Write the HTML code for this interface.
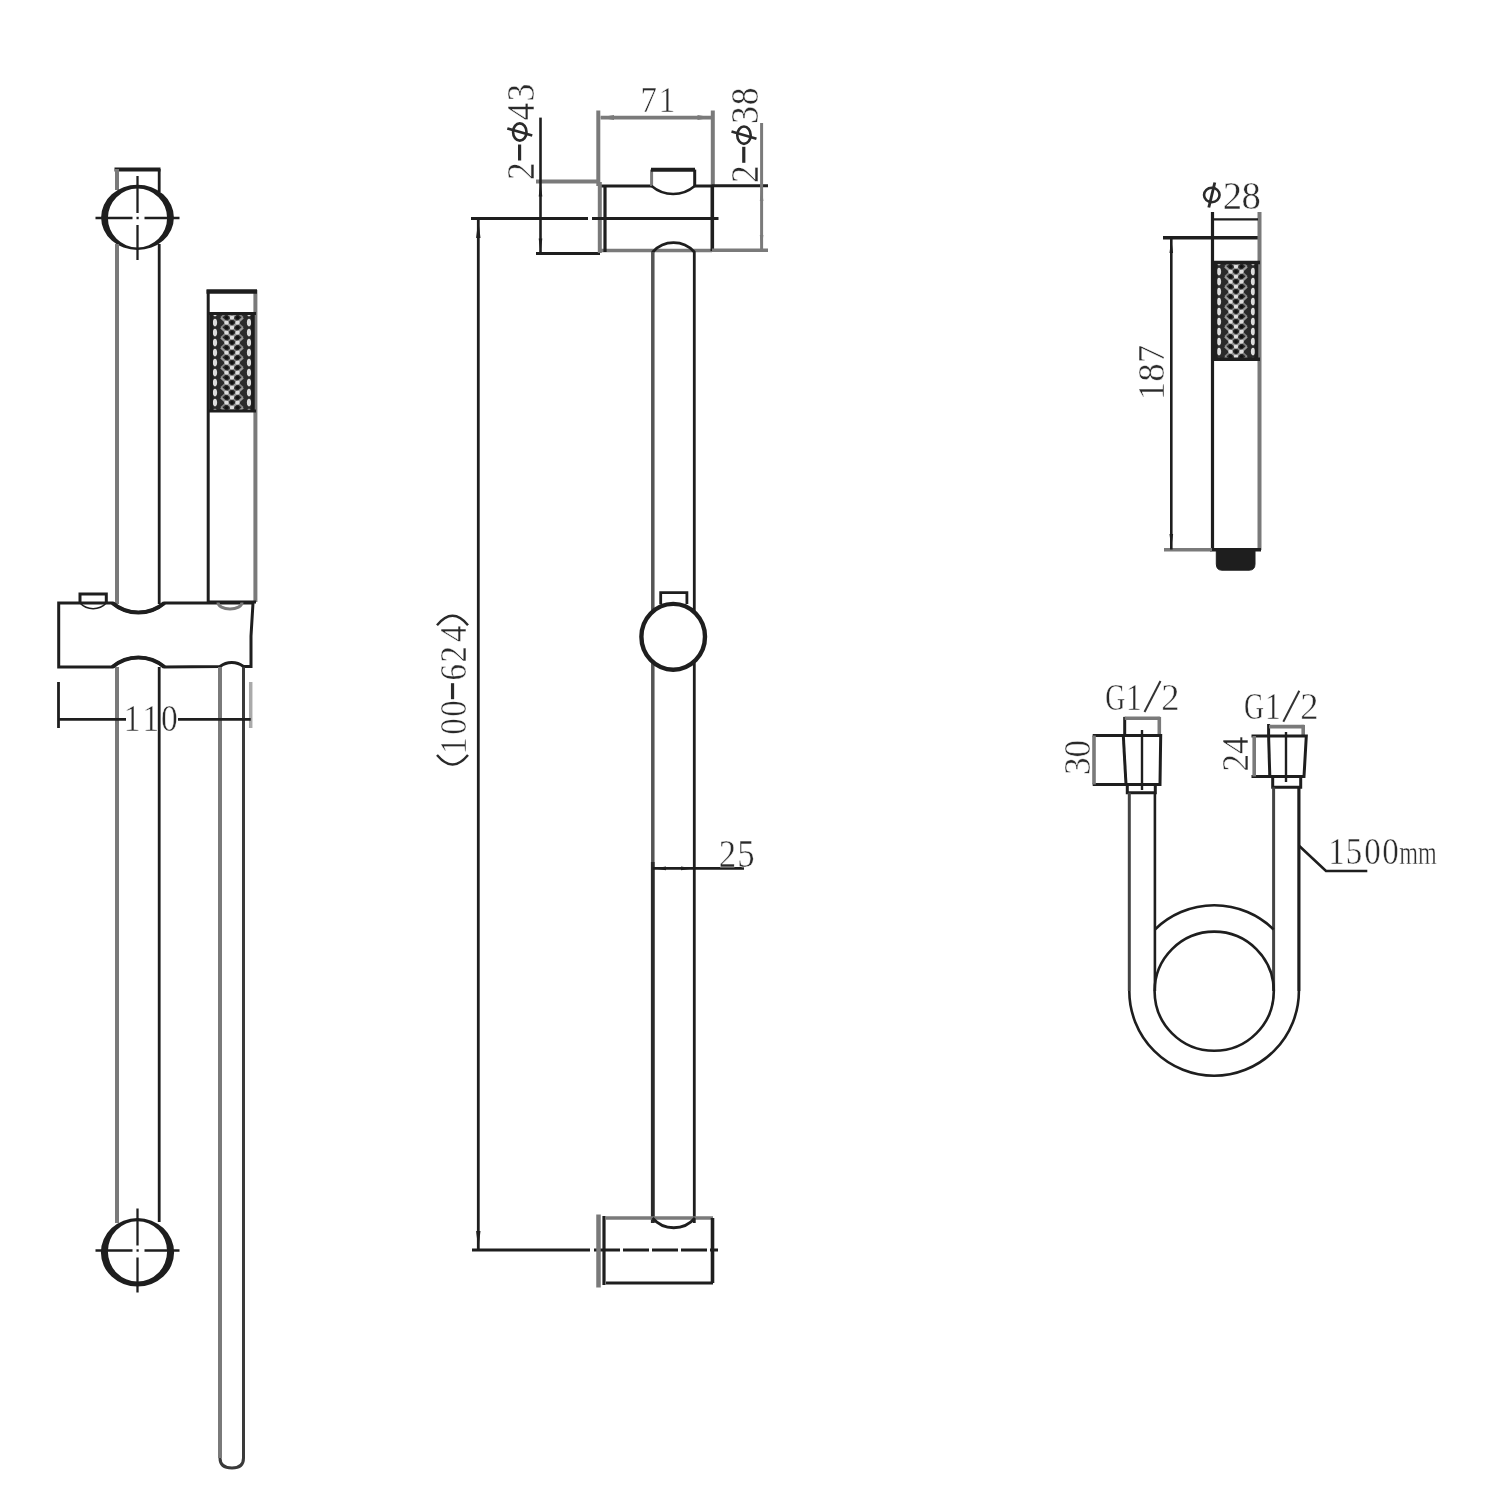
<!DOCTYPE html>
<html><head><meta charset="utf-8"><style>
html,body{margin:0;padding:0;background:#fff;}
svg{display:block;will-change:transform;}
text{font-family:"Liberation Serif", serif;}
</style></head><body>
<svg width="1500" height="1500" viewBox="0 0 1500 1500">
<defs>
<pattern id="mesh" x="0" y="0" width="8" height="8" patternUnits="userSpaceOnUse">
<rect width="8" height="8" fill="#222"/>
<circle cx="2" cy="2" r="1.3" fill="#ddd"/><circle cx="6" cy="6" r="1.3" fill="#ddd"/>
</pattern>
</defs>
<rect width="1500" height="1500" fill="#fff"/>
<line x1="114.5" y1="169.5" x2="160.5" y2="169.5" stroke="#1e1e1e" stroke-width="4.2" />
<line x1="117" y1="169" x2="117" y2="190" stroke="#7a7a7a" stroke-width="4" />
<line x1="159.2" y1="169" x2="159.2" y2="192" stroke="#1e1e1e" stroke-width="2.8" />
<path d="M101.1,217.4 A36.4,32.6 0 1 0 173.9,217.4 A36.4,32.6 0 1 0 101.1,217.4 Z M107.9,218 A29.6,29.4 0 1 0 167.1,218 A29.6,29.4 0 1 0 107.9,218 Z" fill="#1e1e1e" fill-rule="evenodd"/>
<line x1="95.5" y1="218" x2="132.5" y2="218" stroke="#1e1e1e" stroke-width="2.3" />
<line x1="144.5" y1="218" x2="179.5" y2="218" stroke="#1e1e1e" stroke-width="2.3" />
<rect x="136.5" y="216.8" width="2.2" height="2.4" fill="#1e1e1e"/>
<line x1="137.5" y1="176" x2="137.5" y2="213" stroke="#1e1e1e" stroke-width="2.3" />
<line x1="137.5" y1="225" x2="137.5" y2="260" stroke="#1e1e1e" stroke-width="2.3" />
<line x1="117" y1="244" x2="117" y2="604" stroke="#7a7a7a" stroke-width="4" />
<line x1="159.2" y1="244" x2="159.2" y2="604" stroke="#1e1e1e" stroke-width="2.8" />
<path d="M58.7,603 L112.4,603 A40.3,40.3 0 0 0 164.4,603 L253,603 L251,636 L251,666.5 L243.5,666.5 A19.3,19.3 0 0 0 220,666.5 L164.4,667 A40.3,40.3 0 0 0 112.4,667 L58.7,667 Z" stroke="#1e1e1e" stroke-width="3.0" fill="none" />
<path d="M112.4,603 A40.3,40.3 0 0 0 164.4,603" stroke="#1e1e1e" stroke-width="4.2" fill="none" />
<path d="M112.4,667 A40.3,40.3 0 0 1 164.4,667" stroke="#1e1e1e" stroke-width="4.2" fill="none" />
<path d="M80,603 L80,594 L106.3,594 L106.3,603" stroke="#1e1e1e" stroke-width="3.0" fill="none" />
<path d="M80,603 A18,18 0 0 0 106.3,603" stroke="#1e1e1e" stroke-width="1.6" fill="none" />
<line x1="117" y1="667" x2="117" y2="1223" stroke="#7a7a7a" stroke-width="4" />
<line x1="159.2" y1="667" x2="159.2" y2="1222" stroke="#1e1e1e" stroke-width="2.8" />
<path d="M100.9,1252.3 A36.6,34.2 0 1 0 174.1,1252.3 A36.6,34.2 0 1 0 100.9,1252.3 Z M107.9,1251.4 A29.6,30.2 0 1 0 167.1,1251.4 A29.6,30.2 0 1 0 107.9,1251.4 Z" fill="#1e1e1e" fill-rule="evenodd"/>
<line x1="95.5" y1="1250.5" x2="132.5" y2="1250.5" stroke="#1e1e1e" stroke-width="2.3" />
<line x1="144.5" y1="1250.5" x2="179.5" y2="1250.5" stroke="#1e1e1e" stroke-width="2.3" />
<rect x="136.5" y="1249.3" width="2.2" height="2.4" fill="#1e1e1e"/>
<line x1="137.5" y1="1208.5" x2="137.5" y2="1245.5" stroke="#1e1e1e" stroke-width="2.3" />
<line x1="137.5" y1="1257.5" x2="137.5" y2="1292.5" stroke="#1e1e1e" stroke-width="2.3" />
<line x1="208.2" y1="290" x2="208.2" y2="602" stroke="#1e1e1e" stroke-width="3.0" />
<line x1="255.4" y1="290" x2="255.4" y2="602" stroke="#7a7a7a" stroke-width="4" />
<line x1="206.5" y1="291.5" x2="257" y2="291.5" stroke="#1e1e1e" stroke-width="4.5" />
<line x1="208" y1="602" x2="256" y2="602" stroke="#1e1e1e" stroke-width="3.0" />
<path d="M218,602.5 A12,6.5 0 0 0 242,602.5" stroke="#7a7a7a" stroke-width="3" fill="none" />
<rect x="210" y="313" width="44" height="98" fill="#2a2a2a"/><clipPath id="mc232"><rect x="211" y="314" width="42" height="96"/></clipPath><g clip-path="url(#mc232)"><polyline points="221,307.6 226.5,312.6 232,317.6 237.5,312.6 243,307.6" stroke="#9a9a9a" stroke-width="2.2" fill="none"/><polyline points="221,317.6 226.5,312.6 232,307.6 237.5,312.6 243,317.6" stroke="#808080" stroke-width="1.8" fill="none"/><polyline points="221,317.6 226.5,322.6 232,327.6 237.5,322.6 243,317.6" stroke="#9a9a9a" stroke-width="2.2" fill="none"/><polyline points="221,327.6 226.5,322.6 232,317.6 237.5,322.6 243,327.6" stroke="#808080" stroke-width="1.8" fill="none"/><polyline points="221,327.6 226.5,332.6 232,337.6 237.5,332.6 243,327.6" stroke="#9a9a9a" stroke-width="2.2" fill="none"/><polyline points="221,337.6 226.5,332.6 232,327.6 237.5,332.6 243,337.6" stroke="#808080" stroke-width="1.8" fill="none"/><polyline points="221,337.6 226.5,342.6 232,347.6 237.5,342.6 243,337.6" stroke="#9a9a9a" stroke-width="2.2" fill="none"/><polyline points="221,347.6 226.5,342.6 232,337.6 237.5,342.6 243,347.6" stroke="#808080" stroke-width="1.8" fill="none"/><polyline points="221,347.6 226.5,352.6 232,357.6 237.5,352.6 243,347.6" stroke="#9a9a9a" stroke-width="2.2" fill="none"/><polyline points="221,357.6 226.5,352.6 232,347.6 237.5,352.6 243,357.6" stroke="#808080" stroke-width="1.8" fill="none"/><polyline points="221,357.6 226.5,362.6 232,367.6 237.5,362.6 243,357.6" stroke="#9a9a9a" stroke-width="2.2" fill="none"/><polyline points="221,367.6 226.5,362.6 232,357.6 237.5,362.6 243,367.6" stroke="#808080" stroke-width="1.8" fill="none"/><polyline points="221,367.6 226.5,372.6 232,377.6 237.5,372.6 243,367.6" stroke="#9a9a9a" stroke-width="2.2" fill="none"/><polyline points="221,377.6 226.5,372.6 232,367.6 237.5,372.6 243,377.6" stroke="#808080" stroke-width="1.8" fill="none"/><polyline points="221,377.6 226.5,382.6 232,387.6 237.5,382.6 243,377.6" stroke="#9a9a9a" stroke-width="2.2" fill="none"/><polyline points="221,387.6 226.5,382.6 232,377.6 237.5,382.6 243,387.6" stroke="#808080" stroke-width="1.8" fill="none"/><polyline points="221,387.6 226.5,392.6 232,397.6 237.5,392.6 243,387.6" stroke="#9a9a9a" stroke-width="2.2" fill="none"/><polyline points="221,397.6 226.5,392.6 232,387.6 237.5,392.6 243,397.6" stroke="#808080" stroke-width="1.8" fill="none"/><polyline points="221,397.6 226.5,402.6 232,407.6 237.5,402.6 243,397.6" stroke="#9a9a9a" stroke-width="2.2" fill="none"/><polyline points="221,407.6 226.5,402.6 232,397.6 237.5,402.6 243,407.6" stroke="#808080" stroke-width="1.8" fill="none"/><polyline points="221,407.6 226.5,412.6 232,417.6 237.5,412.6 243,407.6" stroke="#9a9a9a" stroke-width="2.2" fill="none"/><polyline points="221,417.6 226.5,412.6 232,407.6 237.5,412.6 243,417.6" stroke="#808080" stroke-width="1.8" fill="none"/><polyline points="221,417.6 226.5,422.6 232,427.6 237.5,422.6 243,417.6" stroke="#9a9a9a" stroke-width="2.2" fill="none"/><polyline points="221,427.6 226.5,422.6 232,417.6 237.5,422.6 243,427.6" stroke="#808080" stroke-width="1.8" fill="none"/><ellipse cx="215" cy="312.6" rx="2.1" ry="3.8" fill="#dcdcdc"/><ellipse cx="249" cy="312.6" rx="2.1" ry="3.8" fill="#dcdcdc"/><circle cx="226.5" cy="312.6" r="2.2" fill="#dedede"/><circle cx="226.5" cy="317.6" r="1.6" fill="#111"/><circle cx="237.5" cy="312.6" r="2.2" fill="#dedede"/><circle cx="237.5" cy="317.6" r="1.6" fill="#111"/><circle cx="232" cy="317.6" r="2.2" fill="#dedede"/><circle cx="232" cy="312.6" r="1.6" fill="#111"/><ellipse cx="215" cy="322.6" rx="2.1" ry="3.8" fill="#dcdcdc"/><ellipse cx="249" cy="322.6" rx="2.1" ry="3.8" fill="#dcdcdc"/><circle cx="226.5" cy="322.6" r="2.2" fill="#dedede"/><circle cx="226.5" cy="327.6" r="1.6" fill="#111"/><circle cx="237.5" cy="322.6" r="2.2" fill="#dedede"/><circle cx="237.5" cy="327.6" r="1.6" fill="#111"/><circle cx="232" cy="327.6" r="2.2" fill="#dedede"/><circle cx="232" cy="322.6" r="1.6" fill="#111"/><ellipse cx="215" cy="332.6" rx="2.1" ry="3.8" fill="#dcdcdc"/><ellipse cx="249" cy="332.6" rx="2.1" ry="3.8" fill="#dcdcdc"/><circle cx="226.5" cy="332.6" r="2.2" fill="#dedede"/><circle cx="226.5" cy="337.6" r="1.6" fill="#111"/><circle cx="237.5" cy="332.6" r="2.2" fill="#dedede"/><circle cx="237.5" cy="337.6" r="1.6" fill="#111"/><circle cx="232" cy="337.6" r="2.2" fill="#dedede"/><circle cx="232" cy="332.6" r="1.6" fill="#111"/><ellipse cx="215" cy="342.6" rx="2.1" ry="3.8" fill="#dcdcdc"/><ellipse cx="249" cy="342.6" rx="2.1" ry="3.8" fill="#dcdcdc"/><circle cx="226.5" cy="342.6" r="2.2" fill="#dedede"/><circle cx="226.5" cy="347.6" r="1.6" fill="#111"/><circle cx="237.5" cy="342.6" r="2.2" fill="#dedede"/><circle cx="237.5" cy="347.6" r="1.6" fill="#111"/><circle cx="232" cy="347.6" r="2.2" fill="#dedede"/><circle cx="232" cy="342.6" r="1.6" fill="#111"/><ellipse cx="215" cy="352.6" rx="2.1" ry="3.8" fill="#dcdcdc"/><ellipse cx="249" cy="352.6" rx="2.1" ry="3.8" fill="#dcdcdc"/><circle cx="226.5" cy="352.6" r="2.2" fill="#dedede"/><circle cx="226.5" cy="357.6" r="1.6" fill="#111"/><circle cx="237.5" cy="352.6" r="2.2" fill="#dedede"/><circle cx="237.5" cy="357.6" r="1.6" fill="#111"/><circle cx="232" cy="357.6" r="2.2" fill="#dedede"/><circle cx="232" cy="352.6" r="1.6" fill="#111"/><ellipse cx="215" cy="362.6" rx="2.1" ry="3.8" fill="#dcdcdc"/><ellipse cx="249" cy="362.6" rx="2.1" ry="3.8" fill="#dcdcdc"/><circle cx="226.5" cy="362.6" r="2.2" fill="#dedede"/><circle cx="226.5" cy="367.6" r="1.6" fill="#111"/><circle cx="237.5" cy="362.6" r="2.2" fill="#dedede"/><circle cx="237.5" cy="367.6" r="1.6" fill="#111"/><circle cx="232" cy="367.6" r="2.2" fill="#dedede"/><circle cx="232" cy="362.6" r="1.6" fill="#111"/><ellipse cx="215" cy="372.6" rx="2.1" ry="3.8" fill="#dcdcdc"/><ellipse cx="249" cy="372.6" rx="2.1" ry="3.8" fill="#dcdcdc"/><circle cx="226.5" cy="372.6" r="2.2" fill="#dedede"/><circle cx="226.5" cy="377.6" r="1.6" fill="#111"/><circle cx="237.5" cy="372.6" r="2.2" fill="#dedede"/><circle cx="237.5" cy="377.6" r="1.6" fill="#111"/><circle cx="232" cy="377.6" r="2.2" fill="#dedede"/><circle cx="232" cy="372.6" r="1.6" fill="#111"/><ellipse cx="215" cy="382.6" rx="2.1" ry="3.8" fill="#dcdcdc"/><ellipse cx="249" cy="382.6" rx="2.1" ry="3.8" fill="#dcdcdc"/><circle cx="226.5" cy="382.6" r="2.2" fill="#dedede"/><circle cx="226.5" cy="387.6" r="1.6" fill="#111"/><circle cx="237.5" cy="382.6" r="2.2" fill="#dedede"/><circle cx="237.5" cy="387.6" r="1.6" fill="#111"/><circle cx="232" cy="387.6" r="2.2" fill="#dedede"/><circle cx="232" cy="382.6" r="1.6" fill="#111"/><ellipse cx="215" cy="392.6" rx="2.1" ry="3.8" fill="#dcdcdc"/><ellipse cx="249" cy="392.6" rx="2.1" ry="3.8" fill="#dcdcdc"/><circle cx="226.5" cy="392.6" r="2.2" fill="#dedede"/><circle cx="226.5" cy="397.6" r="1.6" fill="#111"/><circle cx="237.5" cy="392.6" r="2.2" fill="#dedede"/><circle cx="237.5" cy="397.6" r="1.6" fill="#111"/><circle cx="232" cy="397.6" r="2.2" fill="#dedede"/><circle cx="232" cy="392.6" r="1.6" fill="#111"/><ellipse cx="215" cy="402.6" rx="2.1" ry="3.8" fill="#dcdcdc"/><ellipse cx="249" cy="402.6" rx="2.1" ry="3.8" fill="#dcdcdc"/><circle cx="226.5" cy="402.6" r="2.2" fill="#dedede"/><circle cx="226.5" cy="407.6" r="1.6" fill="#111"/><circle cx="237.5" cy="402.6" r="2.2" fill="#dedede"/><circle cx="237.5" cy="407.6" r="1.6" fill="#111"/><circle cx="232" cy="407.6" r="2.2" fill="#dedede"/><circle cx="232" cy="402.6" r="1.6" fill="#111"/><ellipse cx="215" cy="412.6" rx="2.1" ry="3.8" fill="#dcdcdc"/><ellipse cx="249" cy="412.6" rx="2.1" ry="3.8" fill="#dcdcdc"/><circle cx="226.5" cy="412.6" r="2.2" fill="#dedede"/><circle cx="226.5" cy="417.6" r="1.6" fill="#111"/><circle cx="237.5" cy="412.6" r="2.2" fill="#dedede"/><circle cx="237.5" cy="417.6" r="1.6" fill="#111"/><circle cx="232" cy="417.6" r="2.2" fill="#dedede"/><circle cx="232" cy="412.6" r="1.6" fill="#111"/><ellipse cx="215" cy="422.6" rx="2.1" ry="3.8" fill="#dcdcdc"/><ellipse cx="249" cy="422.6" rx="2.1" ry="3.8" fill="#dcdcdc"/><circle cx="226.5" cy="422.6" r="2.2" fill="#dedede"/><circle cx="226.5" cy="427.6" r="1.6" fill="#111"/><circle cx="237.5" cy="422.6" r="2.2" fill="#dedede"/><circle cx="237.5" cy="427.6" r="1.6" fill="#111"/><circle cx="232" cy="427.6" r="2.2" fill="#dedede"/><circle cx="232" cy="422.6" r="1.6" fill="#111"/></g>
<line x1="208" y1="313.5" x2="256" y2="313.5" stroke="#1e1e1e" stroke-width="3.2" />
<line x1="208" y1="411" x2="256" y2="411" stroke="#1e1e1e" stroke-width="3.2" />
<line x1="211" y1="313" x2="211" y2="411" stroke="#1e1e1e" stroke-width="3.5" />
<line x1="253" y1="313" x2="253" y2="411" stroke="#1e1e1e" stroke-width="3.5" />
<path d="M220,667 L220,1458 Q220,1468 232,1468 Q243.5,1468 243.5,1458 L243.5,667" stroke="#3a3a3a" stroke-width="3.0" fill="none" />
<line x1="220" y1="667" x2="220" y2="1458" stroke="#7a7a7a" stroke-width="4" />
<line x1="58.5" y1="682" x2="58.5" y2="728" stroke="#1e1e1e" stroke-width="2.8" />
<line x1="250.7" y1="682" x2="250.7" y2="728" stroke="#aaa" stroke-width="3.5" />
<line x1="58.5" y1="719.4" x2="126" y2="719.4" stroke="#1e1e1e" stroke-width="2.6" />
<line x1="178" y1="719.4" x2="250.7" y2="719.4" stroke="#1e1e1e" stroke-width="2.6" />
<text transform="translate(132.2 731.2) scale(0.88 1)" font-size="38" text-anchor="middle" fill="#2a2a2a" stroke="#fff" stroke-width="0.5">1</text>
<text transform="translate(150.8 731.2) scale(0.88 1)" font-size="38" text-anchor="middle" fill="#2a2a2a" stroke="#fff" stroke-width="0.5">1</text>
<text transform="translate(169.4 731.2) scale(0.88 1)" font-size="38" text-anchor="middle" fill="#2a2a2a" stroke="#fff" stroke-width="0.5">0</text>
<line x1="598.3" y1="110.5" x2="598.3" y2="186" stroke="#7a7a7a" stroke-width="4" />
<line x1="712.8" y1="110.5" x2="712.8" y2="186" stroke="#7a7a7a" stroke-width="4" />
<line x1="600.6" y1="117.6" x2="711.7" y2="117.6" stroke="#7a7a7a" stroke-width="3.6" />
<polygon points="600,117.6 614,115.1 614,120.1" fill="#7a7a7a"/>
<polygon points="711.5,117.6 697.5,115.1 697.5,120.1" fill="#7a7a7a"/>
<text transform="translate(648.8 112) scale(0.9 1)" font-size="36.5" text-anchor="middle" fill="#2a2a2a" stroke="#fff" stroke-width="0.5">7</text>
<text transform="translate(666.9 112) scale(0.9 1)" font-size="36.5" text-anchor="middle" fill="#2a2a2a" stroke="#fff" stroke-width="0.5">1</text>
<line x1="536" y1="181.5" x2="600" y2="181.5" stroke="#7a7a7a" stroke-width="4.2" />
<line x1="536" y1="253.5" x2="600" y2="253.5" stroke="#1e1e1e" stroke-width="3" />
<line x1="600" y1="186" x2="652" y2="186" stroke="#1e1e1e" stroke-width="3" />
<line x1="694.3" y1="186" x2="712" y2="186" stroke="#1e1e1e" stroke-width="3" />
<line x1="600" y1="250.5" x2="712" y2="250.5" stroke="#7a7a7a" stroke-width="3.6" />
<line x1="599.8" y1="182" x2="599.8" y2="253" stroke="#7a7a7a" stroke-width="4" />
<line x1="605" y1="186" x2="605" y2="252" stroke="#1e1e1e" stroke-width="3.2" />
<line x1="712.3" y1="186" x2="712.3" y2="251" stroke="#1e1e1e" stroke-width="3.6" />
<line x1="651.6" y1="169.6" x2="651.6" y2="186" stroke="#7a7a7a" stroke-width="3.0" />
<line x1="694.7" y1="169.6" x2="694.7" y2="186" stroke="#1e1e1e" stroke-width="3.0" />
<line x1="651" y1="169.8" x2="695" y2="169.8" stroke="#1e1e1e" stroke-width="4" />
<path d="M651.6,186 A33,33 0 0 0 694.7,186" stroke="#1e1e1e" stroke-width="2.4" fill="none" />
<line x1="471" y1="218.5" x2="588" y2="218.5" stroke="#1e1e1e" stroke-width="3" />
<line x1="592" y1="218.5" x2="718.5" y2="218.5" stroke="#1e1e1e" stroke-width="3" />
<line x1="540.5" y1="117.6" x2="540.5" y2="253.5" stroke="#1e1e1e" stroke-width="2.6" />
<polygon points="540.5,182.5 538.7,196.5 542.3,196.5" fill="#1e1e1e"/>
<polygon points="540.5,252.5 538.7,238.5 542.3,238.5" fill="#1e1e1e"/>
<line x1="712" y1="185.8" x2="768" y2="185.8" stroke="#1e1e1e" stroke-width="3" />
<line x1="712" y1="250.3" x2="768" y2="250.3" stroke="#7a7a7a" stroke-width="3.6" />
<line x1="761.6" y1="123" x2="761.6" y2="250.3" stroke="#7a7a7a" stroke-width="3" />
<polygon points="761.6,187 759.8000000000001,201 763.4,201" fill="#7a7a7a"/>
<polygon points="761.6,249 759.8000000000001,235 763.4,235" fill="#7a7a7a"/>
<g transform="translate(533.8 178.8) rotate(-90)"><text transform="translate(7.6 0) scale(0.9 1)" font-size="39.5" text-anchor="middle" fill="#2a2a2a" stroke="#fff" stroke-width="0.5">2</text><line x1="18.3" y1="-14.219999999999999" x2="34.3" y2="-14.219999999999999" stroke="#2a2a2a" stroke-width="3.2"/><ellipse cx="46.8" cy="-14.022499999999999" rx="8.64" ry="6.720000000000001" stroke="#2a2a2a" stroke-width="2.6" fill="none"/><line x1="50.4" y1="-26.502499999999998" x2="43.199999999999996" y2="-1.5424999999999986" stroke="#2a2a2a" stroke-width="2.6"/><text transform="translate(67.3 0) scale(0.9 1)" font-size="39.5" text-anchor="middle" fill="#2a2a2a" stroke="#fff" stroke-width="0.5">4</text><text transform="translate(86.1 0) scale(0.9 1)" font-size="39.5" text-anchor="middle" fill="#2a2a2a" stroke="#fff" stroke-width="0.5">3</text></g>
<g transform="translate(758 181.6) rotate(-90)"><text transform="translate(7.6 0) scale(0.9 1)" font-size="39.5" text-anchor="middle" fill="#2a2a2a" stroke="#fff" stroke-width="0.5">2</text><line x1="18.8" y1="-14.219999999999999" x2="34.8" y2="-14.219999999999999" stroke="#2a2a2a" stroke-width="3.2"/><ellipse cx="46.4" cy="-14.022499999999999" rx="8.64" ry="6.720000000000001" stroke="#2a2a2a" stroke-width="2.6" fill="none"/><line x1="50.0" y1="-26.502499999999998" x2="42.8" y2="-1.5424999999999986" stroke="#2a2a2a" stroke-width="2.6"/><text transform="translate(66.6 0) scale(0.9 1)" font-size="39.5" text-anchor="middle" fill="#2a2a2a" stroke="#fff" stroke-width="0.5">3</text><text transform="translate(85.2 0) scale(0.9 1)" font-size="39.5" text-anchor="middle" fill="#2a2a2a" stroke="#fff" stroke-width="0.5">8</text></g>
<path d="M652.8,1223 L652.8,252 A27.8,27.8 0 0 1 694.3,252 L694.3,1223" stroke="#1e1e1e" stroke-width="2.8" fill="none" />
<line x1="652.8" y1="252" x2="652.8" y2="862" stroke="#555" stroke-width="3.2" />
<line x1="652.8" y1="862" x2="652.8" y2="1223" stroke="#2a2a2a" stroke-width="3.8" />
<path d="M660.7,604 L660.7,592.6 L686.9,592.6 L686.9,604" stroke="#1e1e1e" stroke-width="2.8" fill="none" />
<ellipse cx="673.2" cy="636.8" rx="31.8" ry="32.9" stroke="#1e1e1e" stroke-width="4.4" fill="#fff"/>
<line x1="652.8" y1="868.4" x2="744" y2="868.4" stroke="#1e1e1e" stroke-width="2.6" />
<polygon points="654,868.4 666,866.6 666,870.1999999999999" fill="#1e1e1e"/>
<polygon points="693,868.4 681,866.6 681,870.1999999999999" fill="#1e1e1e"/>
<text transform="translate(727.5 867.3) scale(0.88 1)" font-size="39.5" text-anchor="middle" fill="#2a2a2a" stroke="#fff" stroke-width="0.5">2</text>
<text transform="translate(746 867.3) scale(0.88 1)" font-size="39.5" text-anchor="middle" fill="#2a2a2a" stroke="#fff" stroke-width="0.5">5</text>
<line x1="478.3" y1="218.5" x2="478.3" y2="1250" stroke="#1e1e1e" stroke-width="2.8" />
<polygon points="478.3,220 476.1,238 480.5,238" fill="#1e1e1e"/>
<polygon points="478.3,1249 476.1,1231 480.5,1231" fill="#1e1e1e"/>
<g transform="translate(466.4 766) rotate(-90)"><text transform="translate(20.1 0) scale(0.85 1)" font-size="38.5" text-anchor="middle" fill="#2a2a2a" stroke="#fff" stroke-width="0.5">1</text><text transform="translate(39.3 0) scale(0.85 1)" font-size="38.5" text-anchor="middle" fill="#2a2a2a" stroke="#fff" stroke-width="0.5">0</text><text transform="translate(57.4 0) scale(0.85 1)" font-size="38.5" text-anchor="middle" fill="#2a2a2a" stroke="#fff" stroke-width="0.5">0</text><line x1="66.8" y1="-13.86" x2="82.8" y2="-13.86" stroke="#2a2a2a" stroke-width="3.2"/><text transform="translate(93.7 0) scale(0.85 1)" font-size="38.5" text-anchor="middle" fill="#2a2a2a" stroke="#fff" stroke-width="0.5">6</text><text transform="translate(111.7 0) scale(0.85 1)" font-size="38.5" text-anchor="middle" fill="#2a2a2a" stroke="#fff" stroke-width="0.5">2</text><text transform="translate(132.1 0) scale(0.85 1)" font-size="38.5" text-anchor="middle" fill="#2a2a2a" stroke="#fff" stroke-width="0.5">4</text></g>
<path d="M437,755 Q452.6,774 468,755" stroke="#2a2a2a" stroke-width="2.4" fill="none" />
<path d="M437,625.2 Q452.6,606.2 468,625.2" stroke="#2a2a2a" stroke-width="2.4" fill="none" />
<line x1="472" y1="1250" x2="590" y2="1250" stroke="#1e1e1e" stroke-width="3" />
<line x1="594" y1="1250" x2="718" y2="1250" stroke="#1e1e1e" stroke-width="3" stroke-dasharray="26 3"/>
<line x1="598.5" y1="1214.5" x2="598.5" y2="1287.5" stroke="#7a7a7a" stroke-width="4.5" />
<line x1="604" y1="1216" x2="604" y2="1285" stroke="#1e1e1e" stroke-width="3.2" />
<line x1="606" y1="1218" x2="713" y2="1218" stroke="#7a7a7a" stroke-width="3.6" />
<line x1="606" y1="1283" x2="713" y2="1283" stroke="#1e1e1e" stroke-width="3.2" />
<line x1="712.5" y1="1218" x2="712.5" y2="1283" stroke="#1e1e1e" stroke-width="3.6" />
<path d="M652.5,1218 A28,28 0 0 0 695,1218" stroke="#1e1e1e" stroke-width="2.8" fill="none" />
<line x1="1163" y1="237.8" x2="1261" y2="237.8" stroke="#1e1e1e" stroke-width="3.6" />
<line x1="1212.5" y1="212" x2="1212.5" y2="550" stroke="#1e1e1e" stroke-width="3.2" />
<line x1="1259.5" y1="212" x2="1259.5" y2="550" stroke="#7a7a7a" stroke-width="4" />
<line x1="1214" y1="219.4" x2="1258" y2="219.4" stroke="#1e1e1e" stroke-width="2.4" />
<rect x="1214" y="262" width="44" height="97.60000000000002" fill="#2a2a2a"/><clipPath id="mc1236"><rect x="1215" y="263" width="42" height="95.60000000000002"/></clipPath><g clip-path="url(#mc1236)"><polyline points="1225,256.6 1230.5,261.6 1236,266.6 1241.5,261.6 1247,256.6" stroke="#9a9a9a" stroke-width="2.2" fill="none"/><polyline points="1225,266.6 1230.5,261.6 1236,256.6 1241.5,261.6 1247,266.6" stroke="#808080" stroke-width="1.8" fill="none"/><polyline points="1225,266.6 1230.5,271.6 1236,276.6 1241.5,271.6 1247,266.6" stroke="#9a9a9a" stroke-width="2.2" fill="none"/><polyline points="1225,276.6 1230.5,271.6 1236,266.6 1241.5,271.6 1247,276.6" stroke="#808080" stroke-width="1.8" fill="none"/><polyline points="1225,276.6 1230.5,281.6 1236,286.6 1241.5,281.6 1247,276.6" stroke="#9a9a9a" stroke-width="2.2" fill="none"/><polyline points="1225,286.6 1230.5,281.6 1236,276.6 1241.5,281.6 1247,286.6" stroke="#808080" stroke-width="1.8" fill="none"/><polyline points="1225,286.6 1230.5,291.6 1236,296.6 1241.5,291.6 1247,286.6" stroke="#9a9a9a" stroke-width="2.2" fill="none"/><polyline points="1225,296.6 1230.5,291.6 1236,286.6 1241.5,291.6 1247,296.6" stroke="#808080" stroke-width="1.8" fill="none"/><polyline points="1225,296.6 1230.5,301.6 1236,306.6 1241.5,301.6 1247,296.6" stroke="#9a9a9a" stroke-width="2.2" fill="none"/><polyline points="1225,306.6 1230.5,301.6 1236,296.6 1241.5,301.6 1247,306.6" stroke="#808080" stroke-width="1.8" fill="none"/><polyline points="1225,306.6 1230.5,311.6 1236,316.6 1241.5,311.6 1247,306.6" stroke="#9a9a9a" stroke-width="2.2" fill="none"/><polyline points="1225,316.6 1230.5,311.6 1236,306.6 1241.5,311.6 1247,316.6" stroke="#808080" stroke-width="1.8" fill="none"/><polyline points="1225,316.6 1230.5,321.6 1236,326.6 1241.5,321.6 1247,316.6" stroke="#9a9a9a" stroke-width="2.2" fill="none"/><polyline points="1225,326.6 1230.5,321.6 1236,316.6 1241.5,321.6 1247,326.6" stroke="#808080" stroke-width="1.8" fill="none"/><polyline points="1225,326.6 1230.5,331.6 1236,336.6 1241.5,331.6 1247,326.6" stroke="#9a9a9a" stroke-width="2.2" fill="none"/><polyline points="1225,336.6 1230.5,331.6 1236,326.6 1241.5,331.6 1247,336.6" stroke="#808080" stroke-width="1.8" fill="none"/><polyline points="1225,336.6 1230.5,341.6 1236,346.6 1241.5,341.6 1247,336.6" stroke="#9a9a9a" stroke-width="2.2" fill="none"/><polyline points="1225,346.6 1230.5,341.6 1236,336.6 1241.5,341.6 1247,346.6" stroke="#808080" stroke-width="1.8" fill="none"/><polyline points="1225,346.6 1230.5,351.6 1236,356.6 1241.5,351.6 1247,346.6" stroke="#9a9a9a" stroke-width="2.2" fill="none"/><polyline points="1225,356.6 1230.5,351.6 1236,346.6 1241.5,351.6 1247,356.6" stroke="#808080" stroke-width="1.8" fill="none"/><polyline points="1225,356.6 1230.5,361.6 1236,366.6 1241.5,361.6 1247,356.6" stroke="#9a9a9a" stroke-width="2.2" fill="none"/><polyline points="1225,366.6 1230.5,361.6 1236,356.6 1241.5,361.6 1247,366.6" stroke="#808080" stroke-width="1.8" fill="none"/><polyline points="1225,366.6 1230.5,371.6 1236,376.6 1241.5,371.6 1247,366.6" stroke="#9a9a9a" stroke-width="2.2" fill="none"/><polyline points="1225,376.6 1230.5,371.6 1236,366.6 1241.5,371.6 1247,376.6" stroke="#808080" stroke-width="1.8" fill="none"/><ellipse cx="1219" cy="261.6" rx="2.1" ry="3.8" fill="#dcdcdc"/><ellipse cx="1253" cy="261.6" rx="2.1" ry="3.8" fill="#dcdcdc"/><circle cx="1230.5" cy="261.6" r="2.2" fill="#dedede"/><circle cx="1230.5" cy="266.6" r="1.6" fill="#111"/><circle cx="1241.5" cy="261.6" r="2.2" fill="#dedede"/><circle cx="1241.5" cy="266.6" r="1.6" fill="#111"/><circle cx="1236" cy="266.6" r="2.2" fill="#dedede"/><circle cx="1236" cy="261.6" r="1.6" fill="#111"/><ellipse cx="1219" cy="271.6" rx="2.1" ry="3.8" fill="#dcdcdc"/><ellipse cx="1253" cy="271.6" rx="2.1" ry="3.8" fill="#dcdcdc"/><circle cx="1230.5" cy="271.6" r="2.2" fill="#dedede"/><circle cx="1230.5" cy="276.6" r="1.6" fill="#111"/><circle cx="1241.5" cy="271.6" r="2.2" fill="#dedede"/><circle cx="1241.5" cy="276.6" r="1.6" fill="#111"/><circle cx="1236" cy="276.6" r="2.2" fill="#dedede"/><circle cx="1236" cy="271.6" r="1.6" fill="#111"/><ellipse cx="1219" cy="281.6" rx="2.1" ry="3.8" fill="#dcdcdc"/><ellipse cx="1253" cy="281.6" rx="2.1" ry="3.8" fill="#dcdcdc"/><circle cx="1230.5" cy="281.6" r="2.2" fill="#dedede"/><circle cx="1230.5" cy="286.6" r="1.6" fill="#111"/><circle cx="1241.5" cy="281.6" r="2.2" fill="#dedede"/><circle cx="1241.5" cy="286.6" r="1.6" fill="#111"/><circle cx="1236" cy="286.6" r="2.2" fill="#dedede"/><circle cx="1236" cy="281.6" r="1.6" fill="#111"/><ellipse cx="1219" cy="291.6" rx="2.1" ry="3.8" fill="#dcdcdc"/><ellipse cx="1253" cy="291.6" rx="2.1" ry="3.8" fill="#dcdcdc"/><circle cx="1230.5" cy="291.6" r="2.2" fill="#dedede"/><circle cx="1230.5" cy="296.6" r="1.6" fill="#111"/><circle cx="1241.5" cy="291.6" r="2.2" fill="#dedede"/><circle cx="1241.5" cy="296.6" r="1.6" fill="#111"/><circle cx="1236" cy="296.6" r="2.2" fill="#dedede"/><circle cx="1236" cy="291.6" r="1.6" fill="#111"/><ellipse cx="1219" cy="301.6" rx="2.1" ry="3.8" fill="#dcdcdc"/><ellipse cx="1253" cy="301.6" rx="2.1" ry="3.8" fill="#dcdcdc"/><circle cx="1230.5" cy="301.6" r="2.2" fill="#dedede"/><circle cx="1230.5" cy="306.6" r="1.6" fill="#111"/><circle cx="1241.5" cy="301.6" r="2.2" fill="#dedede"/><circle cx="1241.5" cy="306.6" r="1.6" fill="#111"/><circle cx="1236" cy="306.6" r="2.2" fill="#dedede"/><circle cx="1236" cy="301.6" r="1.6" fill="#111"/><ellipse cx="1219" cy="311.6" rx="2.1" ry="3.8" fill="#dcdcdc"/><ellipse cx="1253" cy="311.6" rx="2.1" ry="3.8" fill="#dcdcdc"/><circle cx="1230.5" cy="311.6" r="2.2" fill="#dedede"/><circle cx="1230.5" cy="316.6" r="1.6" fill="#111"/><circle cx="1241.5" cy="311.6" r="2.2" fill="#dedede"/><circle cx="1241.5" cy="316.6" r="1.6" fill="#111"/><circle cx="1236" cy="316.6" r="2.2" fill="#dedede"/><circle cx="1236" cy="311.6" r="1.6" fill="#111"/><ellipse cx="1219" cy="321.6" rx="2.1" ry="3.8" fill="#dcdcdc"/><ellipse cx="1253" cy="321.6" rx="2.1" ry="3.8" fill="#dcdcdc"/><circle cx="1230.5" cy="321.6" r="2.2" fill="#dedede"/><circle cx="1230.5" cy="326.6" r="1.6" fill="#111"/><circle cx="1241.5" cy="321.6" r="2.2" fill="#dedede"/><circle cx="1241.5" cy="326.6" r="1.6" fill="#111"/><circle cx="1236" cy="326.6" r="2.2" fill="#dedede"/><circle cx="1236" cy="321.6" r="1.6" fill="#111"/><ellipse cx="1219" cy="331.6" rx="2.1" ry="3.8" fill="#dcdcdc"/><ellipse cx="1253" cy="331.6" rx="2.1" ry="3.8" fill="#dcdcdc"/><circle cx="1230.5" cy="331.6" r="2.2" fill="#dedede"/><circle cx="1230.5" cy="336.6" r="1.6" fill="#111"/><circle cx="1241.5" cy="331.6" r="2.2" fill="#dedede"/><circle cx="1241.5" cy="336.6" r="1.6" fill="#111"/><circle cx="1236" cy="336.6" r="2.2" fill="#dedede"/><circle cx="1236" cy="331.6" r="1.6" fill="#111"/><ellipse cx="1219" cy="341.6" rx="2.1" ry="3.8" fill="#dcdcdc"/><ellipse cx="1253" cy="341.6" rx="2.1" ry="3.8" fill="#dcdcdc"/><circle cx="1230.5" cy="341.6" r="2.2" fill="#dedede"/><circle cx="1230.5" cy="346.6" r="1.6" fill="#111"/><circle cx="1241.5" cy="341.6" r="2.2" fill="#dedede"/><circle cx="1241.5" cy="346.6" r="1.6" fill="#111"/><circle cx="1236" cy="346.6" r="2.2" fill="#dedede"/><circle cx="1236" cy="341.6" r="1.6" fill="#111"/><ellipse cx="1219" cy="351.6" rx="2.1" ry="3.8" fill="#dcdcdc"/><ellipse cx="1253" cy="351.6" rx="2.1" ry="3.8" fill="#dcdcdc"/><circle cx="1230.5" cy="351.6" r="2.2" fill="#dedede"/><circle cx="1230.5" cy="356.6" r="1.6" fill="#111"/><circle cx="1241.5" cy="351.6" r="2.2" fill="#dedede"/><circle cx="1241.5" cy="356.6" r="1.6" fill="#111"/><circle cx="1236" cy="356.6" r="2.2" fill="#dedede"/><circle cx="1236" cy="351.6" r="1.6" fill="#111"/><ellipse cx="1219" cy="361.6" rx="2.1" ry="3.8" fill="#dcdcdc"/><ellipse cx="1253" cy="361.6" rx="2.1" ry="3.8" fill="#dcdcdc"/><circle cx="1230.5" cy="361.6" r="2.2" fill="#dedede"/><circle cx="1230.5" cy="366.6" r="1.6" fill="#111"/><circle cx="1241.5" cy="361.6" r="2.2" fill="#dedede"/><circle cx="1241.5" cy="366.6" r="1.6" fill="#111"/><circle cx="1236" cy="366.6" r="2.2" fill="#dedede"/><circle cx="1236" cy="361.6" r="1.6" fill="#111"/><ellipse cx="1219" cy="371.6" rx="2.1" ry="3.8" fill="#dcdcdc"/><ellipse cx="1253" cy="371.6" rx="2.1" ry="3.8" fill="#dcdcdc"/><circle cx="1230.5" cy="371.6" r="2.2" fill="#dedede"/><circle cx="1230.5" cy="376.6" r="1.6" fill="#111"/><circle cx="1241.5" cy="371.6" r="2.2" fill="#dedede"/><circle cx="1241.5" cy="376.6" r="1.6" fill="#111"/><circle cx="1236" cy="376.6" r="2.2" fill="#dedede"/><circle cx="1236" cy="371.6" r="1.6" fill="#111"/></g>
<line x1="1212" y1="262.5" x2="1260" y2="262.5" stroke="#1e1e1e" stroke-width="3.5" />
<line x1="1212" y1="359.2" x2="1260" y2="359.2" stroke="#1e1e1e" stroke-width="3.5" />
<line x1="1215.5" y1="262" x2="1215.5" y2="360" stroke="#1e1e1e" stroke-width="3.5" />
<line x1="1256.5" y1="262" x2="1256.5" y2="360" stroke="#1e1e1e" stroke-width="3.5" />
<line x1="1210" y1="549.8" x2="1261" y2="549.8" stroke="#1e1e1e" stroke-width="3.4" />
<line x1="1164" y1="549.8" x2="1212" y2="549.8" stroke="#7a7a7a" stroke-width="3.4" />
<path d="M1216.3,550 L1216.3,564 Q1216.3,570.2 1222,570.2 L1249,570.2 Q1255,570.2 1255,564 L1255,550 Z" stroke="#1e1e1e" stroke-width="1.0" fill="#1e1e1e" />
<line x1="1171.3" y1="238" x2="1171.3" y2="549.5" stroke="#1e1e1e" stroke-width="2.6" />
<polygon points="1171.3,239 1169.5,253 1173.1,253" fill="#1e1e1e"/>
<polygon points="1171.3,548 1169.5,534 1173.1,534" fill="#1e1e1e"/>
<text transform="translate(1163.6 372.5) rotate(-90) scale(0.97 1)" font-size="38" text-anchor="middle" fill="#2a2a2a" stroke="#fff" stroke-width="0.5">187</text>
<g transform="translate(1211.8 195) rotate(0)"><ellipse cx="0" cy="0" rx="7.75" ry="7.249999999999999" stroke="#2a2a2a" stroke-width="2.6" fill="none"/><line x1="3.0" y1="-12.5" x2="-3.0" y2="12.5" stroke="#2a2a2a" stroke-width="2.8600000000000003"/></g>
<text transform="translate(1232.5 208.5) scale(0.97 1)" font-size="40" text-anchor="middle" fill="#2a2a2a" stroke="#fff" stroke-width="0.5">2</text>
<text transform="translate(1251.3 208.5) scale(0.97 1)" font-size="40" text-anchor="middle" fill="#2a2a2a" stroke="#fff" stroke-width="0.5">8</text>
<line x1="1124.7" y1="716.9" x2="1124.7" y2="735" stroke="#1e1e1e" stroke-width="3.0" />
<line x1="1159.3" y1="716.9" x2="1159.3" y2="735" stroke="#7a7a7a" stroke-width="3.6" />
<line x1="1124.7" y1="718.2" x2="1159.9" y2="718.2" stroke="#7a7a7a" stroke-width="3.6" />
<path d="M1092.7,735.5 L1160.7,735.5 L1160,784.5 L1092.7,784.5" stroke="#1e1e1e" stroke-width="3.0" fill="none" />
<line x1="1123.3" y1="735.5" x2="1126" y2="784.5" stroke="#1e1e1e" stroke-width="3" />
<line x1="1142" y1="730" x2="1142" y2="790" stroke="#1e1e1e" stroke-width="2.4" />
<line x1="1094" y1="735.5" x2="1094" y2="784.5" stroke="#7a7a7a" stroke-width="3.6" />
<path d="M1127.3,784.7 L1127.3,792.7 L1155.3,792.7 L1155.3,784.7" stroke="#1e1e1e" stroke-width="3.0" fill="none" />
<text transform="translate(1090 757.4) rotate(-90) scale(0.95 1)" font-size="37" text-anchor="middle" fill="#2a2a2a" stroke="#fff" stroke-width="0.5">30</text>
<text transform="translate(1115.3 709.8) scale(0.72 1)" font-size="38.5" text-anchor="middle" fill="#2a2a2a" stroke="#fff" stroke-width="0.5">G</text>
<text transform="translate(1134 709.8) scale(0.82 1)" font-size="38.5" text-anchor="middle" fill="#2a2a2a" stroke="#fff" stroke-width="0.5">1</text>
<text transform="translate(1170.5 709.8) scale(0.95 1)" font-size="38.5" text-anchor="middle" fill="#2a2a2a" stroke="#fff" stroke-width="0.5">2</text>
<line x1="1144.5" y1="712" x2="1160.5" y2="681" stroke="#333" stroke-width="2.0" />
<line x1="1268.6" y1="724" x2="1268.6" y2="736" stroke="#1e1e1e" stroke-width="3.0" />
<line x1="1303.2" y1="724.9" x2="1303.2" y2="736" stroke="#7a7a7a" stroke-width="3.6" />
<line x1="1269" y1="726.6" x2="1304" y2="726.6" stroke="#7a7a7a" stroke-width="3.6" />
<path d="M1251.5,736 L1306.3,736 L1304,776.5 L1251.5,776.5" stroke="#1e1e1e" stroke-width="3.0" fill="none" />
<line x1="1268.6" y1="736" x2="1269.8" y2="776.5" stroke="#1e1e1e" stroke-width="3" />
<line x1="1286" y1="732" x2="1286" y2="782" stroke="#1e1e1e" stroke-width="2.4" />
<line x1="1254.2" y1="736" x2="1254.2" y2="776.5" stroke="#7a7a7a" stroke-width="3.6" />
<path d="M1272.7,776.7 L1272.7,787.3 L1300.7,787.3 L1300.7,776.7" stroke="#1e1e1e" stroke-width="3.0" fill="none" />
<text transform="translate(1248 754) rotate(-90) scale(0.95 1)" font-size="37" text-anchor="middle" fill="#2a2a2a" stroke="#fff" stroke-width="0.5">24</text>
<text transform="translate(1254.1 719.3) scale(0.72 1)" font-size="38.5" text-anchor="middle" fill="#2a2a2a" stroke="#fff" stroke-width="0.5">G</text>
<text transform="translate(1272.8 719.3) scale(0.82 1)" font-size="38.5" text-anchor="middle" fill="#2a2a2a" stroke="#fff" stroke-width="0.5">1</text>
<text transform="translate(1309.3 719.3) scale(0.95 1)" font-size="38.5" text-anchor="middle" fill="#2a2a2a" stroke="#fff" stroke-width="0.5">2</text>
<line x1="1283.3" y1="721.8" x2="1299.3" y2="690.8" stroke="#333" stroke-width="2.0" />
<line x1="1129.3" y1="792.7" x2="1129.3" y2="991" stroke="#444" stroke-width="3.0" />
<line x1="1154.9" y1="792.7" x2="1154.9" y2="991" stroke="#1e1e1e" stroke-width="2.6" />
<line x1="1273.6" y1="787.3" x2="1273.6" y2="991" stroke="#444" stroke-width="3.0" />
<line x1="1298.9" y1="787.3" x2="1298.9" y2="991" stroke="#1e1e1e" stroke-width="3.2" />
<path d="M1129.3,991 A84.8,84.8 0 0 0 1298.9,991" stroke="#1e1e1e" stroke-width="2.6" fill="none" />
<path d="M1154.9,929.5 A84.8,84.8 0 0 1 1273.6,929.5" stroke="#1e1e1e" stroke-width="2.6" fill="none" />
<circle cx="1214.2" cy="991.2" r="59.6" stroke="#1e1e1e" stroke-width="2.6" fill="none"/>
<path d="M1299.3,846 L1326,871 L1367.3,871" stroke="#1e1e1e" stroke-width="2.6" fill="none" />
<text transform="translate(1336.4 864) scale(0.88 1)" font-size="37.5" text-anchor="middle" fill="#2a2a2a" stroke="#fff" stroke-width="0.5">1</text>
<text transform="translate(1354 864) scale(0.88 1)" font-size="37.5" text-anchor="middle" fill="#2a2a2a" stroke="#fff" stroke-width="0.5">5</text>
<text transform="translate(1372.4 864) scale(0.88 1)" font-size="37.5" text-anchor="middle" fill="#2a2a2a" stroke="#fff" stroke-width="0.5">0</text>
<text transform="translate(1390.4 864) scale(0.88 1)" font-size="37.5" text-anchor="middle" fill="#2a2a2a" stroke="#fff" stroke-width="0.5">0</text>
<text transform="translate(1418 864) scale(0.7 1)" font-size="34.5" text-anchor="middle" fill="#2a2a2a" stroke="#fff" stroke-width="0.5">mm</text>
</svg>
</body></html>
